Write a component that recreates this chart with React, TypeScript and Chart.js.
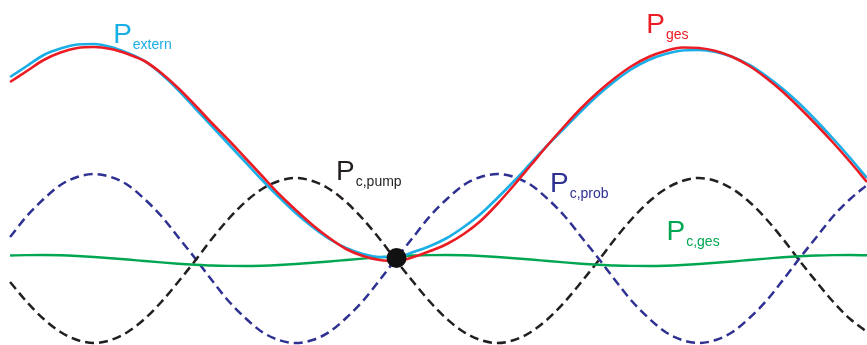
import React, { useEffect, useRef } from "react";
import { Chart, registerables } from "chart.js";

Chart.register(...registerables);

// Phase angle (degrees) at which each power curve is sampled
const angles = [
  -345, -330, -315, -300, -285, -270, -255, -240, -225, -210, -195, -180,
  -165, -150, -135, -120, -105, -90, -75, -60, -45, -30, -15, 0,
  15, 30, 45, 60, 75, 90, 105, 120, 135, 150, 165, 180,
  195, 210, 225, 240, 255, 270, 285, 300, 315, 330, 345, 360,
  375, 390, 405, 420,
];

// External power demand
const pExtern = [
  183, 194, 205, 211.5, 215.5, 216, 213, 207, 199, 186, 170, 152,
  134, 116, 98, 80, 63, 47, 33, 21, 12, 6, 3, 3,
  8, 14, 22, 33, 46, 62, 79, 97, 115, 132, 149, 165,
  179, 191, 200, 206, 209.5, 210, 208, 203, 195, 184, 171, 156,
  139, 121, 102, 82,
];

// Total power
const pGes = [
  178, 189, 200, 207.5, 212, 213, 211, 206, 199, 187, 172, 155,
  137, 120, 102, 84, 66, 50, 35, 22, 11, 4, 0, -1,
  3, 9, 16, 26, 39, 56, 75, 95, 115, 134, 152, 168,
  182, 194, 203, 209, 212.5, 212, 209, 203, 194, 182, 168, 152,
  135, 117, 98, 78,
];

// Compressor power, test side
const pCProb = [
  23, 44, 61, 75, 83, 86, 83, 75, 61, 44, 23, 2,
  -20, -41, -58, -72, -80, -83, -80, -72, -58, -41, -20, 2,
  23, 44, 61, 75, 83, 86, 83, 75, 61, 44, 23, 2,
  -20, -41, -58, -72, -80, -83, -80, -72, -58, -41, -20, 2,
  23, 44, 61, 75,
];

// Compressor power, pump side
const pCPump = [
  -22, -42, -59, -72, -80, -83, -80, -72, -59, -42, -22, -1,
  21, 41, 58, 71, 79, 82, 79, 71, 58, 41, 21, -1,
  -22, -42, -59, -72, -80, -83, -80, -72, -59, -42, -22, -1,
  21, 41, 58, 71, 79, 82, 79, 71, 58, 41, 21, -1,
  -22, -42, -59, -72,
];

// Total compressor power
const pCGes = [
  4.5, 4.9, 5, 4.7, 4, 3, 1.8, 0.5, -1, -2.4, -3.7, -4.7,
  -5.5, -5.9, -6, -5.7, -5, -4, -2.8, -1.5, 0, 1.4, 2.7, 3.7,
  4.5, 4.9, 5, 4.7, 4, 3, 1.8, 0.5, -1, -2.4, -3.7, -4.7,
  -5.5, -5.9, -6, -5.7, -5, -4, -2.8, -1.5, 0, 1.4, 2.7, 3.7,
  4.5, 4.9, 5, 4.7,
];

// Operating point where the compressor curves cross
const operatingPoint = { angle: 0, power: 2 };

// Curve labels: main letter, subscript, anchor (angle, power), colour
const labelMain = ["P", "P", "P", "P", "P"];
const labelSub = ["extern", "ges", "c,pump", "c,prob", "c,ges"];
const labelAngle = [-253, 223, -54, 137, 241];
const labelPower = [217, 227, 80, 68, 20];

const CYAN = "#1aaee6";
const RED = "#ec1c24";
const NAVY = "#2e3192";
const GREEN = "#00a651";
const BLACK = "#231f20";
const labelColor = [CYAN, RED, BLACK, NAVY, GREEN];

const toPoints = (ys: number[]) => angles.map((a, i) => ({ x: a, y: ys[i] }));

const labelPlugin = {
  id: "curveLabels",
  afterDatasetsDraw(chart: any) {
    const { ctx, scales } = chart;
    ctx.save();
    ctx.textBaseline = "alphabetic";
    ctx.textAlign = "left";
    labelSub.forEach((sub, i) => {
      const x = scales.x.getPixelForValue(labelAngle[i]);
      const y = scales.y.getPixelForValue(labelPower[i]);
      ctx.fillStyle = labelColor[i];
      ctx.font = '28px "Liberation Sans", Arial, sans-serif';
      ctx.fillText(labelMain[i], x, y);
      const w = ctx.measureText(labelMain[i]).width;
      ctx.font = '14px "Liberation Sans", Arial, sans-serif';
      ctx.fillText(sub, x + w + 1, y + 6);
    });
    ctx.restore();
  },
};

export default function App() {
  const canvasRef = useRef<HTMLCanvasElement | null>(null);

  useEffect(() => {
    if (!canvasRef.current) return;
    const dash = [9, 5];
    const chart = new Chart(canvasRef.current, {
      type: "line",
      data: {
        datasets: [
          {
            label: "operating point",
            type: "scatter",
            data: [{ x: operatingPoint.angle, y: operatingPoint.power }],
            pointRadius: 10,
            pointBackgroundColor: "#111111",
            pointBorderWidth: 0,
            order: 0,
          } as any,
          {
            label: "P ges",
            data: toPoints(pGes),
            borderColor: RED,
            borderWidth: 2.6,
            order: 1,
          },
          {
            label: "P extern",
            data: toPoints(pExtern),
            borderColor: CYAN,
            borderWidth: 2.6,
            order: 2,
          },
          {
            label: "P c,ges",
            data: toPoints(pCGes),
            borderColor: GREEN,
            borderWidth: 2.4,
            order: 3,
          },
          {
            label: "P c,pump",
            data: toPoints(pCPump),
            borderColor: BLACK,
            borderWidth: 2.5,
            borderDash: dash,
            order: 4,
          },
          {
            label: "P c,prob",
            data: toPoints(pCProb),
            borderColor: NAVY,
            borderWidth: 2.5,
            borderDash: dash,
            order: 5,
          },
        ],
      },
      options: {
        responsive: false,
        animation: false,
        layout: { padding: 0, autoPadding: false },
        elements: {
          line: { tension: 0.4, cubicInterpolationMode: "monotone", fill: false },
          point: { radius: 0, hoverRadius: 0 },
        },
        plugins: {
          legend: { display: false },
          tooltip: { enabled: false },
          title: { display: false },
        },
        scales: {
          x: { type: "linear", min: -354, max: 420, display: false },
          y: { type: "linear", min: -85, max: 260, display: false },
        },
      },
      plugins: [labelPlugin],
    });
    return () => chart.destroy();
  }, []);

  return (
    <div style={{ position: "absolute", left: 0, top: 0, width: 867, height: 345, background: "#ffffff" }}>
      <canvas ref={canvasRef} width={867} height={345} />
    </div>
  );
}
